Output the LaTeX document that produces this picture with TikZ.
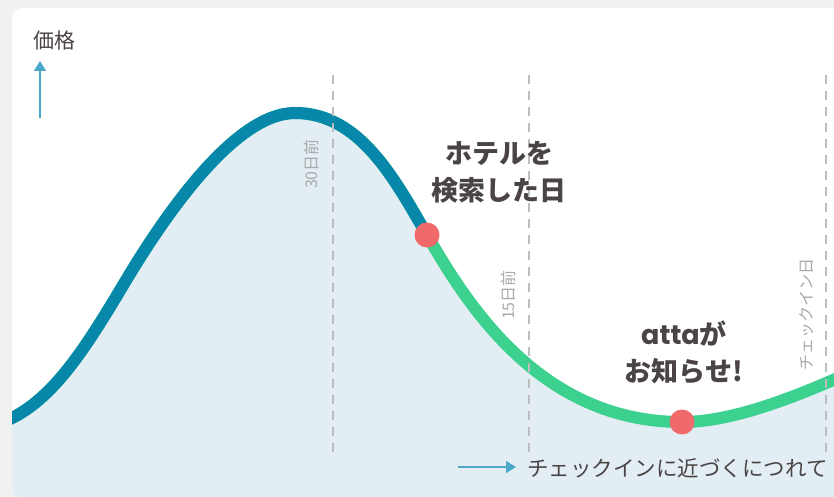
\documentclass[tikz,border=0pt]{standalone}
\usepackage{fontspec}
\setmainfont{Noto Sans CJK JP}
\newfontfamily\latinfont{Poppins}
\usetikzlibrary{arrows.meta}
\definecolor{bgc}{HTML}{F1F1F1}
\definecolor{areac}{HTML}{E2EEF4}
\definecolor{bluec}{HTML}{0787A9}
\definecolor{greenc}{HTML}{3CD18F}
\definecolor{redc}{HTML}{F06A6B}
\definecolor{dashc}{HTML}{BDBDBD}
\definecolor{textc}{HTML}{4B4444}
\definecolor{smallc}{HTML}{A9A9A9}
\definecolor{arrowc}{HTML}{4BA8C8}
\tikzset{
  dashline/.style={dashc, line width=2.6pt, dash pattern=on 9pt off 7pt},
  daylabel/.style={smallc, font=\fontsize{16}{16}\selectfont, rotate=90, inner sep=0pt},
  biglabel/.style={textc, font=\fontsize{27}{37}\selectfont\bfseries, align=center, inner sep=0pt},
  dotc/.style={circle, fill=redc, minimum size=25pt, inner sep=0pt},
  axisarrow/.style={arrowc, line width=1.8pt, -{Triangle[length=10pt,width=12pt]}},
}
\newcommand{\pricecurve}{(-10,429) -- (12,418) .. controls (57,395.5) and (90,340.5) .. (125,282) .. controls (165,215) and (235,113) .. (295,113) .. controls (360,113) and (395,180) .. (427,235) .. controls (467,304) and (540,422) .. (682,422) .. controls (730,422) and (790,400) .. (860,368)}
\begin{document}
\begin{tikzpicture}[x=1pt,y=-1pt]
\useasboundingbox (0,0) rectangle (834,497);
\fill[bgc] (0,0) rectangle (834,497);
\fill[white, rounded corners=10pt] (12,8) rectangle (870,498);
\begin{scope}
  \clip[rounded corners=10pt] (12,8) rectangle (870,498);
  \fill[areac] \pricecurve -- (870,520) -- (-10,520) -- cycle;
  \draw[greenc, line width=12pt] \pricecurve;
  \begin{scope}
    \clip (-20,-20) rectangle (427,600);
    \draw[bluec, line width=12pt] \pricecurve;
  \end{scope}
\end{scope}
% dashed day lines
\coordinate (d30t) at (333,75);  \coordinate (d30b) at (333,455);
\coordinate (d15t) at (529,75);  \coordinate (d15b) at (529,455);
\coordinate (d0t)  at (826,75);  \coordinate (d0b)  at (826,455);
\draw[dashline] (d30t) -- (d30b);
\draw[dashline] (d15t) -- (d15b);
\draw[dashline] (d0t) -- (d0b);
\node[daylabel] (l30) at (311,164) {30日前};
\node[daylabel] (l15) at (508,295) {15日前};
\node[daylabel] (l0) at (807,314) {チェックイン日};
% dots
\node[dotc] (search) at (427,235) {};
\node[dotc] (notify) at (682,422) {};
% labels
\node[biglabel] (searchlbl) at (499,172) {ホテルを\\検索した日};
\node[biglabel] (notifylbl) at (684,352) {{\latinfont\bfseries atta}が\\お知らせ!};
% price axis
\node[textc, font=\fontsize{21}{21}\selectfont, inner sep=0pt] (price) at (54,41) {価格};
\coordinate (pa0) at (40,118);
\coordinate (pa1) at (40,61);
\draw[axisarrow] (pa0) -- (pa1);
% time axis
\node[textc, font=\fontsize{21.5}{21.5}\selectfont, inner sep=0pt, anchor=west] (time) at (527,468) {チェックインに近づくにつれて};
\coordinate (ta0) at (458,467);
\coordinate (ta1) at (516,467);
\draw[axisarrow, line width=1.5pt] (ta0) -- (ta1);
\end{tikzpicture}
\end{document}
